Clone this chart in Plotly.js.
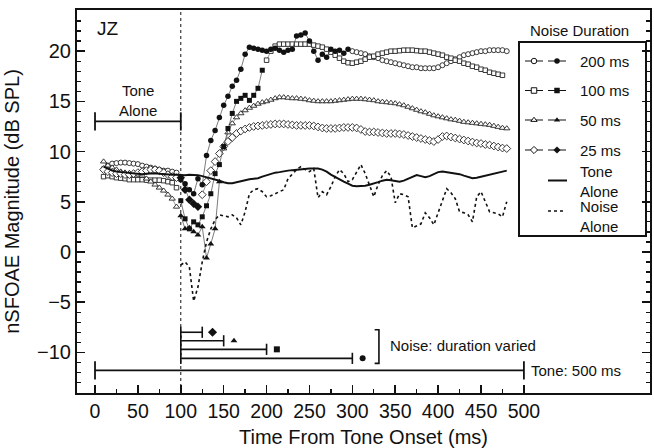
<!DOCTYPE html>
<html>
<head>
<meta charset="utf-8">
<script src="https://cdn.plot.ly/plotly-3.0.1.min.js"></script>
<style>
  html, body { margin: 0; padding: 0; background: #fff; }
  #chart { width: 654px; height: 448px; }
</style>
</head>
<body>
<div id="chart"></div>
<script>
// nSFOAE magnitude (dB SPL) sampled every 5 ms, subject JZ.

const STEP_MS = 5;

// Before noise onset (10–95 ms), open symbols
const pre200 = [8.3, 8.6, 8.8, 8.85, 8.9, 8.9, 8.85, 8.8, 8.75, 8.6, 8.5, 8.4, 8.3, 8.2, 8.1, 8.1, 8.0, 7.9];
const pre100 = [7.5, 7.6, 7.5, 7.4, 7.35, 7.3, 7.2, 7.2, 7.2, 7.2, 7.15, 7.15, 7.15, 7.15, 7.1, 7.0, 6.9, 6.4];
const pre50  = [9.0, 8.6, 8.4, 8.2, 8.0, 7.9, 7.85, 7.8, 7.7, 7.6, 7.3, 7.0, 6.7, 6.4, 6.1, 5.7, 5.3, 4.5];
const pre25  = [8.2, 8.0, 7.9, 7.8, 7.8, 7.7, 7.7, 7.8, 7.9, 8.0, 8.1, 8.2, 8.2, 8.1, 7.9, 7.7, 7.5, 7.4];

// During the noise (from 100 ms), filled symbols
const dur200 = [7.2, 6.8, 6.2, 5.8, 7.3, 6.7, 9.6, 11.1, 12.1, 13.4, 14.6, 15.5, 16.5, 17.1, 18.2, 19.7,
                20.4, 20.3, 20.2, 20.1, 20.0, 20.2, 20.3, 20.1, 19.9, 20.1, 20.2, 21.5, 21.6, 21.8,
                21.0, 20.0, 19.1, 19.7, 19.4, 20.2, 20.0, 20.1, 19.8, 20.2];
const dur100 = [5.1, 3.3, 2.3, 3.0, 2.7, 3.5, 4.6, 5.8, 7.8, 8.7, 10.5, 12.3, 13.8, 15.0, 15.3, 15.6,
                15.1, 15.6, 16.3, 18.1];
const dur50  = [3.6, 2.3, 2.4, 2.0, 1.7, 2.5, -0.6, 0.8, 2.3, 7.0];
const dur25  = [7.4, 6.2, 5.2, 4.8, 4.5];

// After noise offset, open symbols
const post200 = [20.0, 19.9, 19.8, 19.7, 19.5, 19.4, 19.3, 19.1, 19.0, 18.9, 18.8, 18.7, 18.6, 18.5,
                 18.4, 18.4, 18.3, 18.3, 18.3, 18.3, 18.4, 18.6, 18.8, 19.0, 19.2, 19.4, 19.6, 19.7,
                 19.8, 19.9, 20.0, 20.0, 20.1, 20.1, 20.1, 20.1, 20.0];
const post100 = [19.1, 20.0, 20.5, 20.7, 20.7, 20.7, 20.7, 20.7, 20.7, 20.7, 20.7, 20.6, 20.5, 20.4,
                 20.2, 19.9, 19.6, 19.3, 19.0, 18.85, 18.8, 18.9, 19.0, 19.2, 19.4, 19.5, 19.7,
                 19.8, 19.9, 20.0, 20.0, 20.05, 20.1, 20.1, 20.1, 20.05, 20.0, 20.0, 19.9, 19.8,
                 19.7, 19.6, 19.4, 19.3, 19.1, 19.0, 18.8, 18.7, 18.5, 18.4, 18.2, 18.1, 17.9,
                 17.8, 17.7, 17.6];
const post50 = [10.3, 11.9, 12.8, 13.4, 13.8, 14.1, 14.35, 14.55, 14.75, 14.9, 15.0, 15.15, 15.3,
                15.4, 15.4, 15.35, 15.3, 15.3, 15.25, 15.2, 15.1, 15.05, 15.0, 15.0, 15.0, 15.0,
                15.05, 15.1, 15.15, 15.2, 15.25, 15.25, 15.25, 15.2, 15.15, 15.1, 15.0, 14.95,
                14.9, 14.85, 14.8, 14.7, 14.6, 14.45, 14.3, 14.15, 14.0, 13.9, 13.75, 13.6, 13.5,
                13.4, 13.3, 13.2, 13.15, 13.05, 12.95, 12.9, 12.85, 12.8, 12.75, 12.7, 12.65,
                12.55, 12.45, 12.35, 12.3];
const post25 = [5.7, 7.0, 8.1, 9.0, 9.8, 10.5, 11.0, 11.4, 11.8, 12.05, 12.25, 12.4, 12.5, 12.55,
                12.6, 12.65, 12.7, 12.75, 12.75, 12.75, 12.7, 12.65, 12.6, 12.6, 12.6, 12.6, 12.55,
                12.45, 12.35, 12.3, 12.3, 12.3, 12.35, 12.4, 12.4, 12.4, 12.35, 12.2, 12.0, 11.95,
                11.95, 11.9, 11.85, 11.8, 11.8, 11.8, 11.75, 11.7, 11.6, 11.5, 11.4, 11.3, 11.2,
                11.1, 11.0, 11.2, 11.5, 11.55, 11.45, 11.35, 11.25, 11.15, 11.05, 10.95, 10.85,
                10.8, 10.7, 10.65, 10.55, 10.45, 10.35, 10.3];

// Tone alone (10–480 ms)
const toneAlone = [8.5, 8.3, 8.1, 8.0, 7.95, 7.9, 7.85, 7.8, 7.8, 7.75, 7.8, 7.85, 7.85, 7.8, 7.75,
                   7.7, 7.7, 7.7, 7.65, 7.65, 7.7, 7.7, 7.65, 7.55, 7.45, 7.35, 7.25, 7.1, 6.95,
                   6.85, 6.85, 6.95, 7.1, 7.2, 7.25, 7.3, 7.35, 7.5, 7.65, 7.8, 7.9, 7.95, 8.05,
                   8.1, 8.15, 8.2, 8.25, 8.25, 8.3, 8.3, 8.3, 8.2, 8.0, 7.7, 7.45, 7.2, 7.0, 6.8,
                   6.6, 6.55, 6.55, 6.6, 6.7, 6.8, 6.95, 7.1, 7.2, 7.15, 7.05, 7.0, 7.1, 7.3, 7.5,
                   7.65, 7.55, 7.45, 7.55, 7.75, 7.95, 8.0, 7.95, 7.9, 7.85, 7.75, 7.6, 7.45, 7.35,
                   7.4, 7.5, 7.55, 7.65, 7.75, 7.85, 7.95, 8.1];
// Noise alone (100–480 ms)
const noiseAlone = [-1.3, -1.0, -1.5, -4.9, -3.5, -1.0, 1.0, 2.3, 3.2, 3.7, 3.6, 3.5, 3.7, 3.4, 2.7,
                    4.0, 5.8, 6.2, 6.3, 6.0, 5.5, 5.6, 5.8, 6.0, 6.2, 7.3, 7.8, 8.2, 8.5, 8.2, 8.0,
                    8.3, 5.4, 6.0, 5.7, 6.5, 7.5, 8.2, 7.8, 7.0, 7.2, 8.0, 8.7, 7.8, 6.6, 5.5, 6.7,
                    7.6, 8.1, 7.5, 4.9, 5.8, 5.7, 5.5, 2.4, 2.6, 2.8, 3.9, 3.4, 2.7, 3.9, 5.1, 6.3,
                    5.9, 5.3, 4.0, 3.9, 3.7, 3.0, 5.5, 6.0, 5.0, 4.0, 3.9, 3.8, 3.5, 5.0];

// Stimulus timing (ms)
const toneDuration = 500;
const noiseOnset = 100;
const noiseDurations = [25, 50, 100, 200];
const conditionSymbols = ['diamond', 'triangle-up', 'square', 'circle'];

const xTickVals = [0, 50, 100, 150, 200, 250, 300, 350, 400, 450, 500];
const xMinorVals = [25, 75, 125, 175, 225, 275, 325, 375, 425, 475];

function times(start, n) {
  const out = [];
  for (let i = 0; i < n; i++) out.push(start + i * STEP_MS);
  return out;
}

const FONT = 'Liberation Sans, Arial, Helvetica, sans-serif';
const INK = '#111';

// ---- styling helpers -------------------------------------------------------
function openTrace(start, vals, symbol, size) {
  return {
    x: times(start, vals.length), y: vals, type: 'scatter', mode: 'lines+markers',
    line: { color: '#555', width: 0.6 },
    marker: { symbol: symbol, size: size, color: '#fff', line: { color: '#222', width: 0.9 } },
    hoverinfo: 'skip', showlegend: false, cliponaxis: false
  };
}
function filledTrace(start, vals, symbol, size) {
  return {
    x: times(start, vals.length), y: vals, type: 'scatter', mode: 'lines+markers',
    line: { color: '#444', width: 0.7 },
    marker: { symbol: symbol, size: size, color: INK, line: { color: INK, width: 0 } },
    hoverinfo: 'skip', showlegend: false, cliponaxis: false
  };
}

const traces = [];

// pre-noise
traces.push(openTrace(10, pre200, 'circle', 5));
traces.push(openTrace(10, pre100, 'square', 4.5));
traces.push(openTrace(10, pre50, 'triangle-up', 5.5));
traces.push(openTrace(10, pre25, 'diamond', 6));

// post-noise (each begins at the noise offset)
traces.push(openTrace(noiseOnset + 200, post200, 'circle', 5));
traces.push(openTrace(noiseOnset + 100, post100, 'square', 4.5));
traces.push(openTrace(noiseOnset + 50, post50, 'triangle-up', 5.5));
traces.push(openTrace(noiseOnset + 25, post25, 'diamond', 6));

// during noise
traces.push(filledTrace(noiseOnset, dur25, 'diamond', 6.5));
traces.push(filledTrace(noiseOnset, dur50, 'triangle-up', 6));
traces.push(filledTrace(noiseOnset, dur100, 'square', 5));
traces.push(filledTrace(noiseOnset, dur200, 'circle', 5.5));

// references
traces.push({
  x: times(100, noiseAlone.length), y: noiseAlone, type: 'scatter', mode: 'lines',
  line: { color: INK, width: 1.6, dash: 'dot' }, hoverinfo: 'skip', showlegend: false
});
traces.push({
  x: times(10, toneAlone.length), y: toneAlone, type: 'scatter', mode: 'lines',
  line: { color: INK, width: 2 }, hoverinfo: 'skip', showlegend: false
});

// ---- stimulus timing bars --------------------------------------------------
const noiseBarLevels = [-8.0, -8.85, -9.7, -10.6];
const toneBarLevel = -11.8;
const toneAloneBarLevel = 13.0;
const markerGapMs = 12;

function intervalBar(x0, x1, y, cap, width) {
  return {
    x: [x0, x1], y: [y, y], type: 'scatter', mode: 'lines+markers',
    line: { color: INK, width: width },
    marker: { symbol: 'line-ns-open', size: cap, line: { color: INK, width: width } },
    hoverinfo: 'skip', showlegend: false, cliponaxis: false
  };
}

traces.push(intervalBar(0, noiseOnset, toneAloneBarLevel, 13, 1.8));
traces.push(intervalBar(0, toneDuration, toneBarLevel, 13, 1.8));
noiseDurations.forEach(function (d, i) {
  traces.push(intervalBar(noiseOnset, noiseOnset + d, noiseBarLevels[i], 8, 1.6));
  traces.push({
    x: [noiseOnset + d + markerGapMs], y: [noiseBarLevels[i]], type: 'scatter', mode: 'markers',
    marker: { symbol: conditionSymbols[i], size: i === 0 ? 7 : 6, color: INK },
    hoverinfo: 'skip', showlegend: false
  });
});
// bracket grouping the noise bars
traces.push({
  x: [326, 331, 331, 326], y: [-7.75, -7.75, -11.1, -11.1], type: 'scatter', mode: 'lines',
  line: { color: INK, width: 1.6 }, hoverinfo: 'skip', showlegend: false
});

// ---- key (drawn in a pixel-space overlay) ----------------------------------
const keyRowsY = [61, 90.5, 120, 150];
const keyRowLabels = ['200 ms', '100 ms', '50 ms', '25 ms'];
const keyRowSymbols = ['circle', 'square', 'triangle-up', 'diamond'];
const keyOpenX = 534, keyFilledX = 557, keyTextX = 578;

keyRowsY.forEach(function (y, i) {
  traces.push({
    x: [keyOpenX - 9, keyOpenX + 9], y: [y, y], xaxis: 'x2', yaxis: 'y2', type: 'scatter',
    mode: 'lines', line: { color: INK, width: 1 }, hoverinfo: 'skip', showlegend: false
  });
  traces.push({
    x: [keyFilledX - 9, keyFilledX + 9], y: [y, y], xaxis: 'x2', yaxis: 'y2', type: 'scatter',
    mode: 'lines', line: { color: INK, width: 1 }, hoverinfo: 'skip', showlegend: false
  });
  traces.push({
    x: [keyOpenX], y: [y], xaxis: 'x2', yaxis: 'y2', type: 'scatter', mode: 'markers',
    marker: { symbol: keyRowSymbols[i], size: 5.5, color: '#fff', line: { color: INK, width: 1 } },
    hoverinfo: 'skip', showlegend: false
  });
  traces.push({
    x: [keyFilledX], y: [y], xaxis: 'x2', yaxis: 'y2', type: 'scatter', mode: 'markers',
    marker: { symbol: keyRowSymbols[i], size: 5.5, color: INK },
    hoverinfo: 'skip', showlegend: false
  });
});
traces.push({
  x: [548, 567], y: [180.5, 180.5], xaxis: 'x2', yaxis: 'y2', type: 'scatter', mode: 'lines',
  line: { color: INK, width: 2 }, hoverinfo: 'skip', showlegend: false
});
traces.push({
  x: [548, 566], y: [211, 211], xaxis: 'x2', yaxis: 'y2', type: 'scatter', mode: 'lines',
  line: { color: INK, width: 1.6, dash: 'dot' }, hoverinfo: 'skip', showlegend: false
});

const textFont = { family: FONT, size: 15, color: INK };
function label(x, y, text, xref, yref, anchor, font) {
  return { x: x, y: y, xref: xref, yref: yref, text: text, showarrow: false,
           xanchor: anchor, yanchor: 'middle', align: anchor === 'center' ? 'center' : 'left',
           font: font || textFont };
}
const annotations = [
  label(0, 22.3, 'JZ', 'x', 'y', 'left', { family: FONT, size: 19, color: INK }),
  label(50, 15.1, 'Tone<br>Alone', 'x', 'y', 'center'),
  label(341, -9.3, 'Noise: duration varied', 'x', 'y', 'left'),
  label(506, toneBarLevel, 'Tone: 500 ms', 'x', 'y', 'left'),
  label(579, 30, 'Noise Duration', 'x2', 'y2', 'center'),
  label(keyTextX, 181, 'Tone<br>Alone', 'x2', 'y2', 'left'),
  label(keyTextX, 216, 'Noise<br>Alone', 'x2', 'y2', 'left')
];
keyRowsY.forEach(function (y, i) {
  annotations.push(label(keyTextX, y, keyRowLabels[i], 'x2', 'y2', 'left'));
});

const shapes = [
  { type: 'line', xref: 'x', yref: 'paper', x0: noiseOnset, x1: noiseOnset, y0: 0, y1: 1,
    line: { color: INK, width: 1, dash: 'dot' }, layer: 'below' },
  { type: 'rect', xref: 'x2', yref: 'y2', x0: 519, x1: 646, y0: 42, y1: 236,
    line: { color: INK, width: 2 }, fillcolor: 'rgba(0,0,0,0)' }
];

const layout = {
  width: 654, height: 448,
  margin: { l: 77, r: 4, t: 10, b: 55 },
  paper_bgcolor: '#fff', plot_bgcolor: '#fff',
  showlegend: false,
  font: { family: FONT, size: 19, color: INK },
  xaxis: {
    range: [-21, 647], showgrid: false, zeroline: false,
    showline: true, linecolor: INK, linewidth: 2, mirror: true,
    tickmode: 'array', tickvals: xTickVals, ticks: 'inside', ticklen: 8, tickwidth: 1.5,
    tickcolor: INK, tickfont: { family: FONT, size: 19.5, color: INK },
    minor: { tickmode: 'array', tickvals: xMinorVals, ticks: 'inside', ticklen: 4,
             tickwidth: 1.3, tickcolor: INK },
    title: { text: 'Time From Tone Onset (ms)', font: { family: FONT, size: 20, color: INK },
             standoff: 9 }
  },
  yaxis: {
    range: [-14.05, 24.1], showgrid: false, zeroline: false,
    showline: true, linecolor: INK, linewidth: 2, mirror: 'ticks',
    tickmode: 'linear', tick0: 0, dtick: 5, ticks: 'inside', ticklen: 8, tickwidth: 1.5,
    tickcolor: INK, tickfont: { family: FONT, size: 20, color: INK },
    minor: { tickmode: 'linear', tick0: 0, dtick: 1, ticks: 'inside', ticklen: 4,
             tickwidth: 1.3, tickcolor: INK },
    title: { text: 'nSFOAE Magnitude (dB SPL)', font: { family: FONT, size: 20, color: INK },
             standoff: 12 }
  },
  xaxis2: { overlaying: 'x', anchor: 'y2', range: [77, 650], visible: false, fixedrange: true },
  yaxis2: { overlaying: 'y', anchor: 'x2', range: [393, 10], visible: false, fixedrange: true },
  annotations: annotations,
  shapes: shapes
};

Plotly.newPlot('chart', traces, layout, { displayModeBar: false, staticPlot: true });
</script>
</body>
</html>
